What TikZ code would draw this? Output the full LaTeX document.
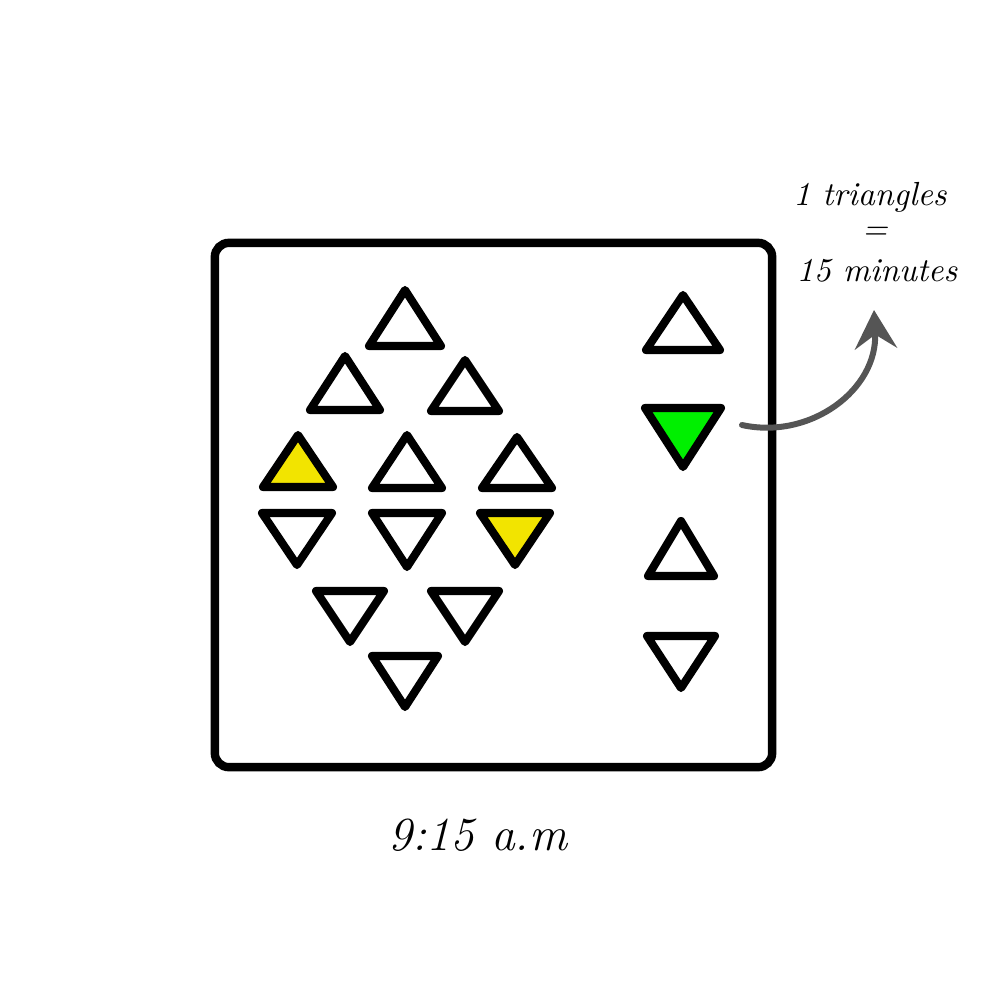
\documentclass[tikz,border=0pt]{standalone}
\usepackage{tikz}
\usetikzlibrary{arrows.meta}
\definecolor{tyellow}{HTML}{F2E400}
\definecolor{tgreen}{HTML}{00F000}
\definecolor{arrowgray}{HTML}{555555}
\begin{document}
\begin{tikzpicture}[x=0.01cm,y=-0.01cm,
  tri/.style={draw=black,line width=2.3pt,line join=round,fill=white},
  frame/.style={draw=black,line width=2.4pt,rounded corners=4pt,minimum width=5.57cm,minimum height=5.24cm,inner sep=0pt},
  lbl/.style={font=\itshape\fontsize{9.5}{11}\selectfont,inner sep=0pt},
  big/.style={font=\itshape\fontsize{13.5}{16}\selectfont,inner sep=0pt}]
\useasboundingbox (0,0) rectangle (1000,1000);
\node[frame] (box) at (493.5,505) {};
% triangles: apex, base
\newcommand{\upT}[5]{\draw[tri,#5] (#1,#2) -- (#3,#4) -- (2*#1-#3,#4) -- cycle;}
% diamond group
\upT{405}{290}{369}{346}{}
\upT{345}{356}{310}{410}{}
\upT{465}{360}{431}{411}{}
\upT{298}{435}{263}{487}{fill=tyellow}
\upT{407}{435}{372}{488}{}
\upT{517}{437}{482}{488}{}
\upT{297}{565}{262}{513}{}
\upT{407}{567}{372}{513}{}
\upT{515}{565}{480}{513}{fill=tyellow}
\upT{350}{642}{316}{591}{}
\upT{465}{642}{431}{591}{}
\upT{405}{707}{372}{656}{}
% right column
\upT{683}{295}{646}{350}{}
\upT{683}{467}{645}{408}{fill=tgreen}
\upT{681}{521}{648}{576}{}
\upT{681}{688}{647}{636}{}
% labels
\node[lbl] (t1) at (870,197) {1 triangles};
\node[lbl] (t2) at (875,233) {=};
\node[lbl] (t3) at (877,271) {15 minutes};
\coordinate (as) at (742,425);
\coordinate (ae) at (874,310);
\draw[draw=arrowgray,line width=1.7pt,line cap=round,-{Stealth[length=11pt,width=12pt,inset=4pt]}]
  (as) .. controls (810,440) and (878,390) .. (ae);
\node[big] (time) at (478,835) {9:15 a.m};
\end{tikzpicture}
\end{document}
